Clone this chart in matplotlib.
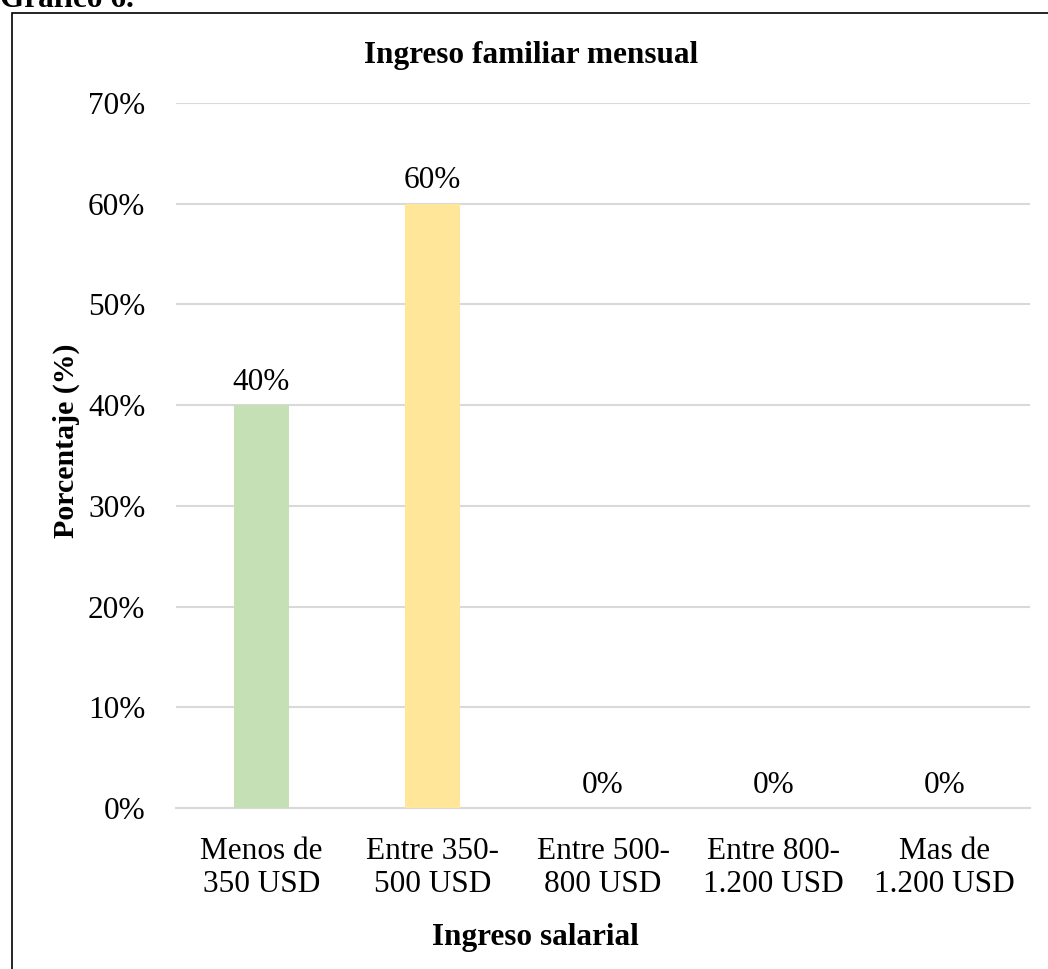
import matplotlib
matplotlib.use("Agg")
import matplotlib.pyplot as plt
from matplotlib.patches import Rectangle
from matplotlib.ticker import FuncFormatter

categories = ["Menos de\n350 USD", "Entre 350-\n500 USD", "Entre 500-\n800 USD",
              "Entre 800-\n1.200 USD", "Mas de\n1.200 USD"]
values = [40, 60, 0, 0, 0]
bar_colors = ["#c5e0b4", "#ffe699", "#bdd7ee", "#f8cbad", "#d9d9d9"]
yticks = [0, 10, 20, 30, 40, 50, 60, 70]

plt.rcParams["font.family"] = ["Liberation Serif", "DejaVu Serif"]
FS = 22.5

W, H = 1048, 969
fig = plt.figure(figsize=(W / 100, H / 100), dpi=100)
ax = fig.add_axes([176 / W, 1 - 808 / H, (1030 - 176) / W, (808 - 103) / H])

x = range(len(categories))
ax.bar(x, values, width=0.32, color=bar_colors, zorder=3)
for xi, v in zip(x, values):
    ax.annotate(f"{v}%", (xi, v), xytext=(0, 6), textcoords="offset points",
                ha="center", va="bottom", fontsize=FS)

ax.set_ylim(0, 70)
ax.set_xlim(-0.5, len(categories) - 0.5)
ax.set_yticks(yticks)
ax.yaxis.set_major_formatter(FuncFormatter(lambda v, p: f"{v:.0f}%"))
ax.set_xticks(list(x))
ax.set_xticklabels(categories, fontsize=FS, linespacing=1.18)
ax.tick_params(axis="y", length=0, pad=22, labelsize=FS)
ax.tick_params(axis="x", length=0, pad=21)
ax.grid(axis="y", color="#d9d9d9", linewidth=1.5, zorder=0)
for s in ["left", "right", "top"]:
    ax.spines[s].set_visible(False)
ax.spines["bottom"].set_color("#d9d9d9")
ax.spines["bottom"].set_linewidth(1.5)

fig.text(531 / W, 1 - 55 / H, "Ingreso familiar mensual", ha="center", va="center",
         fontsize=FS, fontweight="bold")
fig.text(535 / W, 1 - 937 / H, "Ingreso salarial", ha="center", va="center",
         fontsize=FS, fontweight="bold")
fig.text(66 / W, 1 - 441 / H, "Porcentaje (%)", ha="center", va="center",
         rotation=90, fontsize=21.5, fontweight="bold")

# Caption above the framed chart
fig.text(0, 1 - 7 / H, "Gráfico 6.", ha="left", va="baseline",
         fontsize=FS, fontweight="bold")

# Frame around the chart
fig.add_artist(Rectangle((11.5 / W, -0.05), 1.2, 1 - 12.5 / H + 0.05,
                         transform=fig.transFigure, fill=False,
                         edgecolor="black", linewidth=1.2))

fig.savefig("out.png", dpi=100)
